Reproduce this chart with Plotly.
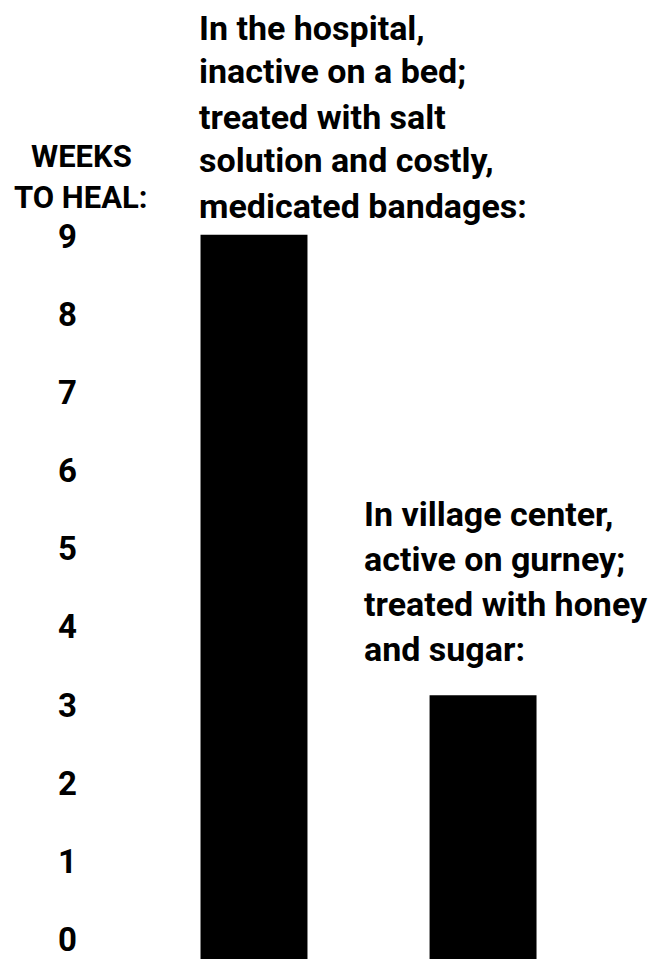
import plotly.graph_objects as go

# --- data -------------------------------------------------------------
treatments = ["Hospital", "Village center"]
weeks_to_heal = [9, 3.1]
tick_values = [0, 1, 2, 3, 4, 5, 6, 7, 8, 9]
tick_labels = ["0", "1", "2", "3", "4", "5", "6", "7", "8", "9"]

hospital_lines = [
    "In the hospital,",
    "inactive on a bed;",
    "treated with salt",
    "solution and costly,",
    "medicated bandages:",
]
village_lines = [
    "In village center,",
    "active on gurney;",
    "treated with honey",
    "and sugar:",
]
axis_title_lines = ["WEEKS", "TO HEAL:"]

# --- layout constants ---------------------------------------------------
FIG_W, FIG_H = 664, 959
LEFT = 90                      # left margin (room for the week labels)
FONT = "Roboto, Arial, sans-serif"
BAR_WIDTH = 0.467
X_RANGE = [-0.716, 1.790]
Y_BOTTOM = -0.282              # bars run down to the page edge
Y_RANGE = [Y_BOTTOM, 12.01]


def px_x(px):
    return (px - LEFT) / (FIG_W - LEFT)


def px_y(px):
    return 1 - px / FIG_H


fig = go.Figure(
    go.Bar(
        x=treatments,
        y=[w - Y_BOTTOM for w in weeks_to_heal],
        base=Y_BOTTOM,
        width=BAR_WIDTH,
        marker=dict(color="black", line=dict(width=0)),
        customdata=weeks_to_heal,
        hovertemplate="%{x}: %{customdata} weeks<extra></extra>",
    )
)

annotations = []
text_font = dict(family=FONT, size=34, color="black")

# header over the hospital bar (baselines in px)
for line, base_px in zip(hospital_lines, [39, 83, 128, 172, 217]):
    annotations.append(dict(
        text="<b>" + line + "</b>", xref="paper", yref="paper",
        x=px_x(197), y=px_y(base_px - 11.5), xanchor="left", yanchor="middle",
        showarrow=False, font=text_font,
    ))

# header over the village bar
for line, base_px in zip(village_lines, [525, 570, 615, 660]):
    annotations.append(dict(
        text="<b>" + line + "</b>", xref="paper", yref="paper",
        x=px_x(362), y=px_y(base_px - 11.5), xanchor="left", yanchor="middle",
        showarrow=False, font=text_font,
    ))

# vertical axis caption
for line, base_px in zip(axis_title_lines, [167, 208]):
    annotations.append(dict(
        text="<b>" + line + "</b>", xref="paper", yref="paper",
        x=px_x(81), y=px_y(base_px - 10.5), xanchor="center", yanchor="middle",
        showarrow=False, font=dict(family=FONT, size=31, color="black"),
    ))

fig.update_layout(
    width=FIG_W,
    height=FIG_H,
    margin=dict(l=LEFT, r=0, t=0, b=0, pad=0),
    paper_bgcolor="white",
    plot_bgcolor="white",
    showlegend=False,
    annotations=annotations,
    xaxis=dict(
        range=X_RANGE, showticklabels=False, showgrid=False,
        zeroline=False, showline=False, ticks="",
    ),
    yaxis=dict(
        range=Y_RANGE, tickvals=tick_values,
        ticktext=["<b>" + t + "</b>" for t in tick_labels],
        showgrid=False, zeroline=False, showline=False, ticks="",
        ticklabelstandoff=12,
        ticklabelshift=2,
        tickfont=dict(family=FONT, size=33, color="black"),
    ),
)

fig.write_html("out.html")
